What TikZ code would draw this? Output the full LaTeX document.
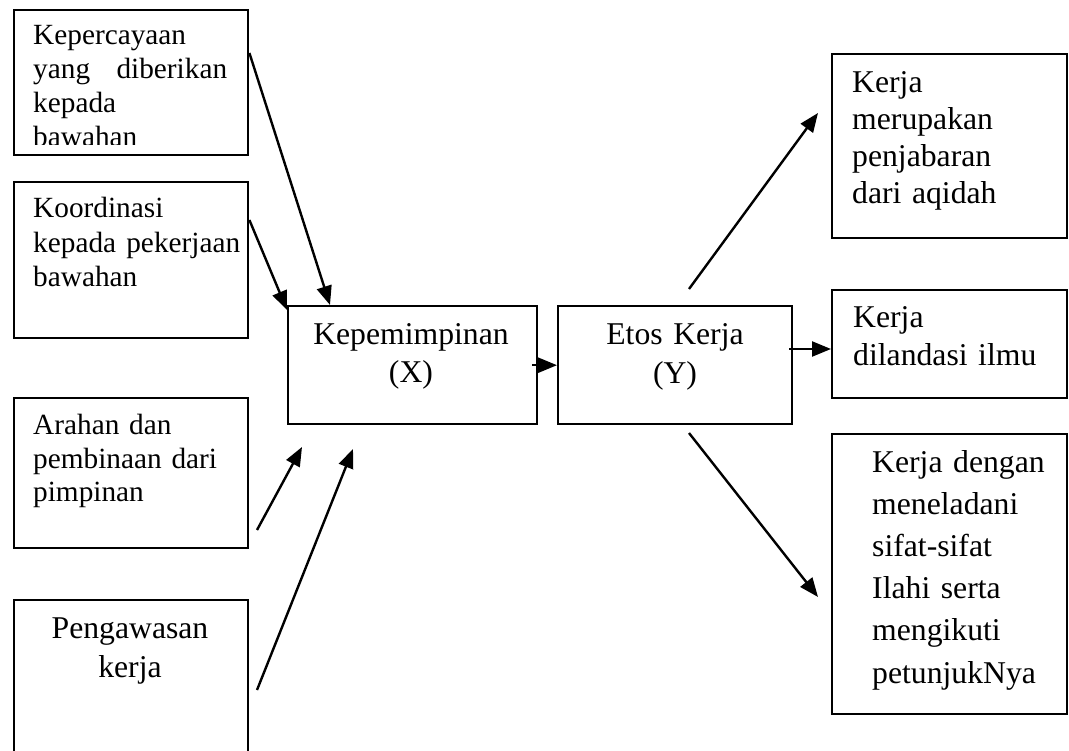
\documentclass[tikz,border=0pt]{standalone}
\usepackage{fontspec}
\setmainfont{Liberation Serif}
\usetikzlibrary{arrows.meta}
\newcommand\myfs[2]{\fontsize{#1pt}{#2pt}\selectfont}
\begin{document}
\begin{tikzpicture}[x=1pt,y=-1pt,
  box/.style={draw, line width=2.4pt, inner sep=0pt, anchor=north west},
  lbl/.style={inner sep=0pt, anchor=base west, align=left, text width=#1},
  ctr/.style={inner sep=0pt, anchor=base, align=center, text width=#1},
  arr/.style={line width=2.4pt, -{Triangle[length=19pt,width=15pt]}}
]
\useasboundingbox (0,0) rectangle (1069,751);
\clip (0,0) rectangle (1069,751);

% boxes
\node[box, minimum width=234pt, minimum height=145pt] (b1) at (13,9) {};
\node[box, minimum width=234pt, minimum height=156pt] (b2) at (13,181) {};
\node[box, minimum width=234pt, minimum height=150pt] (b3) at (13,397) {};
\node[box, minimum width=234pt, minimum height=170pt] (b4) at (13,599) {};
\node[box, minimum width=249pt, minimum height=118pt] (kep) at (287,305) {};
\node[box, minimum width=234pt, minimum height=118pt] (etos) at (557,305) {};
\node[box, minimum width=235pt, minimum height=184pt] (r1) at (831,53) {};
\node[box, minimum width=235pt, minimum height=108pt] (r2) at (831,289) {};
\node[box, minimum width=235pt, minimum height=280pt] (r3) at (831,433) {};

% texts
\begin{scope}
\clip (13,9) rectangle (247,144.5);
\node[lbl=205pt, font=\myfs{29.3}{34}] (t1) at (33,45)
  {Kepercayaan\\\makebox[194pt][l]{yang\hfill diberikan}\\kepada\\bawahan};
\end{scope}
\node[lbl=210pt, font=\myfs{29.3}{34.5}] (t2) at (33,218)
  {Koordinasi\\\makebox[207pt][l]{kepada\hfill pekerjaan}\\bawahan};
\node[lbl=210pt, font=\myfs{29.3}{33.5}] (t3) at (33,435)
  {Arahan dan\\pembinaan dari\\pimpinan};
\node[ctr=220pt, font=\myfs{31.7}{39}] (t4) at (130,638)
  {Pengawasan\\kerja};
\node[ctr=230pt, font=\myfs{31.7}{38}] (tk) at (411,345)
  {Kepemimpinan\\(X)};
\node[ctr=220pt, font=\myfs{31.7}{39}] (te) at (675,345)
  {Etos Kerja\\(Y)};
\node[lbl=210pt, font=\myfs{31.7}{36.7}] (tr1) at (852,93)
  {Kerja\\merupakan\\penjabaran\\dari aqidah};
\node[lbl=210pt, font=\myfs{31.7}{38}] (tr2) at (853,328)
  {Kerja\\dilandasi ilmu};
\node[lbl=190pt, font=\myfs{31.7}{42.2}] (tr3) at (872,472)
  {Kerja dengan\\meneladani\\sifat-sifat\\Ilahi serta\\mengikuti\\petunjukNya};

% free connector ends
\coordinate (a3s) at (257,530);
\coordinate (a3e) at (302,447);
\coordinate (a4s) at (257,690);
\coordinate (a4e) at (353,449);
\coordinate (a7s) at (689,289);
\coordinate (a7e) at (818,113);
\coordinate (a8s) at (689,433);
\coordinate (a8e) at (818,597);

% connectors
\draw[arr] (b1.east |- 0,53) -- (kep.north -| 330,0);
\draw[arr] (b2.east |- 0,220) -- ([yshift=-5pt]kep.north west);
\draw[arr] (a3s) -- (a3e);
\draw[arr] (a4s) -- (a4e);
\draw[arr] ([xshift=-6pt]kep.east) -- (etos.west);
\draw[arr] ([xshift=-4pt]etos.east |- 0,349) -- (r2.west |- 0,349);
\draw[arr] (a7s) -- (a7e);
\draw[arr] (a8s) -- (a8e);
\end{tikzpicture}
\end{document}
